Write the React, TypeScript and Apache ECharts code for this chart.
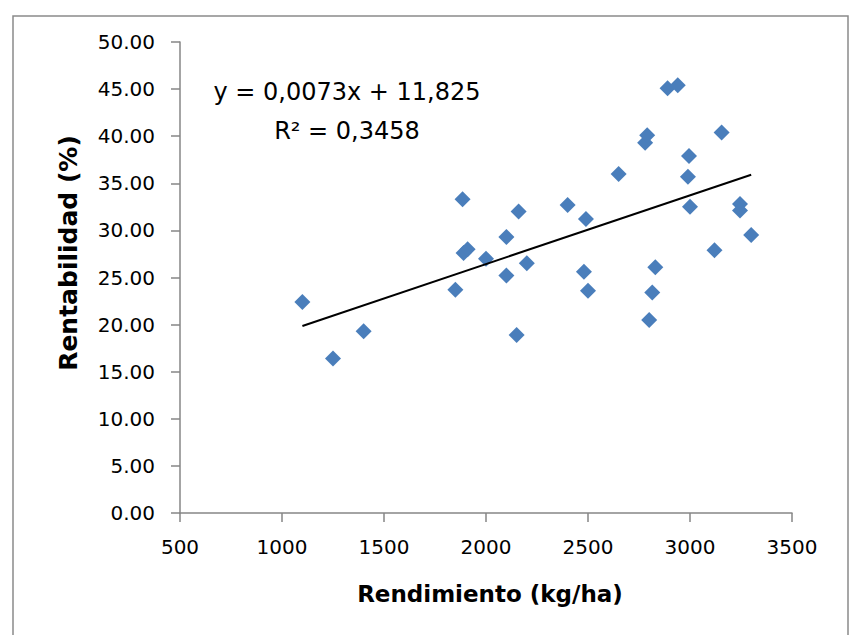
import React, { useEffect, useRef } from "react";
import * as echarts from "echarts";

const rendimiento = [
  1100, 1250, 1400, 1850, 1885, 1890, 1910, 2000, 2100, 2100, 2150,
  2160, 2200, 2400, 2480, 2490, 2500, 2650, 2780, 2790, 2800, 2815,
  2830, 2890, 2940, 2990, 2995, 3000, 3120, 3155, 3245, 3245, 3300,
];
const rentabilidad = [
  22.4, 16.4, 19.3, 23.7, 33.3, 27.6, 28.0, 27.0, 29.3, 25.2, 18.9,
  32.0, 26.5, 32.7, 25.6, 31.2, 23.6, 36.0, 39.3, 40.1, 20.5, 23.4,
  26.1, 45.1, 45.4, 35.7, 37.9, 32.5, 27.9, 40.4, 32.8, 32.1, 29.5,
];
const trendX = [1100, 3300];
const trendY = [19.855, 35.915];
const equationLines = ["y = 0,0073x + 11,825", "R² = 0,3458"];
const xTitle = "Rendimiento (kg/ha)";
const yTitle = "Rentabilidad (%)";

const FONT = "DejaVu Sans";

export default function App() {
  const ref = useRef<HTMLDivElement>(null);
  useEffect(() => {
    if (!ref.current) return;
    const chart = echarts.init(ref.current, null, { renderer: "svg" });
    const axisLine = { show: true, lineStyle: { color: "#868686", width: 1.5 } };
    chart.setOption({
      animation: false,
      backgroundColor: "#ffffff",
      grid: { left: 180, right: 62, top: 42, bottom: 122, containLabel: false },
      xAxis: {
        type: "value",
        min: 500,
        max: 3500,
        interval: 500,
        axisLine,
        axisTick: { show: true, length: 9, inside: false, lineStyle: { color: "#868686", width: 1.5 } },
        splitLine: { show: false },
        axisLabel: {
          color: "#000",
          fontFamily: FONT,
          fontSize: 20,
          margin: 24,
          formatter: (v: number) => String(v),
        },
      },
      yAxis: {
        type: "value",
        min: 0,
        max: 50,
        interval: 5,
        axisLine,
        axisTick: { show: true, length: 9, inside: false, lineStyle: { color: "#868686", width: 1.5 } },
        splitLine: { show: false },
        axisLabel: {
          color: "#000",
          fontFamily: FONT,
          fontSize: 20,
          margin: 25,
          formatter: (v: number) => v.toFixed(2),
        },
      },
      series: [
        {
          type: "scatter",
          data: rendimiento.map((x, i) => [x, rentabilidad[i]]),
          symbol: "diamond",
          symbolSize: 16,
          itemStyle: { color: "#4A7EBB", opacity: 1 },
          z: 3,
        },
        {
          type: "line",
          data: trendX.map((x, i) => [x, trendY[i]]),
          showSymbol: false,
          symbol: "none",
          lineStyle: { color: "#000", width: 2 },
          z: 4,
        },
      ],
      graphic: [
        {
          type: "rect",
          shape: { x: 13, y: 16, width: 835, height: 640 },
          style: { fill: "none", stroke: "#8a8a8a", lineWidth: 1.5 },
          silent: true,
        },
        {
          type: "text",
          x: 347,
          y: 92,
          style: { text: equationLines[0], font: `24px "${FONT}"`, fill: "#000", align: "center", verticalAlign: "middle" },
        },
        {
          type: "text",
          x: 347,
          y: 131,
          style: { text: equationLines[1], font: `24px "${FONT}"`, fill: "#000", align: "center", verticalAlign: "middle" },
        },
        {
          type: "text",
          x: 490,
          y: 594,
          style: { text: xTitle, font: `bold 23px "${FONT}"`, fill: "#000", align: "center", verticalAlign: "middle" },
        },
        {
          type: "text",
          x: 68,
          y: 253,
          rotation: Math.PI / 2,
          style: { text: yTitle, font: `bold 25px "${FONT}"`, fill: "#000", align: "center", verticalAlign: "middle" },
        },
      ],
    });
    return () => chart.dispose();
  }, []);
  return (
    <div
      ref={ref}
      style={{ position: "fixed", left: 0, top: 0, width: 854, height: 635 }}
    />
  );
}
